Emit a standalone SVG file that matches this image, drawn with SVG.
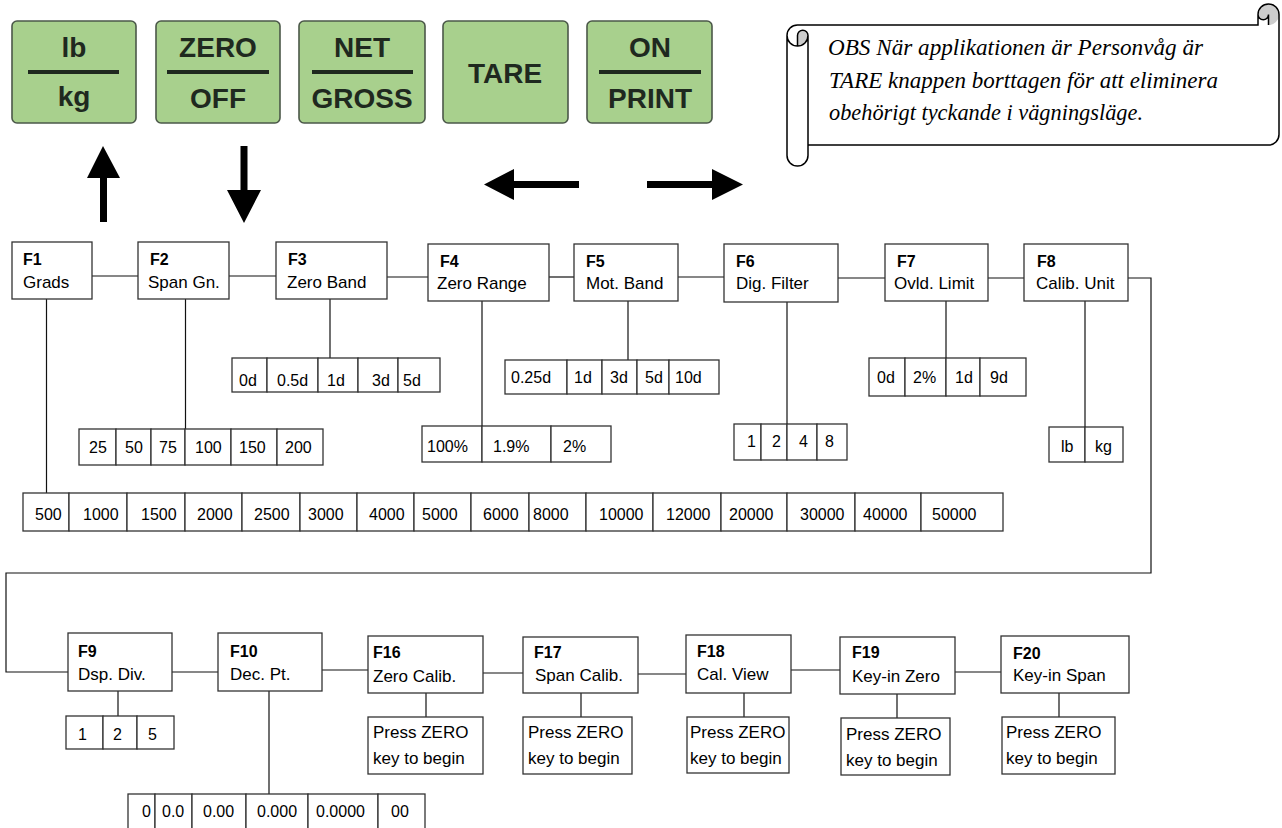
<svg xmlns="http://www.w3.org/2000/svg" width="1282" height="828" viewBox="0 0 1282 828">
<style>
.btn{fill:#a8d08d;stroke:#4b5849;stroke-width:1.6}
.bt{font-family:"Liberation Sans",Arial,sans-serif;font-weight:bold;font-size:28px;fill:#1f291f;text-anchor:middle}
.dv{stroke:#1f291f;stroke-width:4}
.box{fill:#fff;stroke:#333;stroke-width:1.3}
.ln{stroke:#111;stroke-width:1.2;fill:none}
.fl{font-family:"Liberation Sans",Arial,sans-serif;font-weight:bold;font-size:16px;fill:#000}
.nm{font-family:"Liberation Sans",Arial,sans-serif;font-size:17px;fill:#000}
.v{font-family:"Liberation Sans",Arial,sans-serif;font-size:16px;fill:#000}
.ar{fill:#000}
.sc{font-family:"Liberation Serif","Times New Roman",serif;font-style:italic;font-size:24px;fill:#000}
</style>

<g id="buttons">
  <g id="btn-lbkg"><rect class="btn" x="12" y="21" width="124" height="102" rx="5"/><line class="dv" x1="28" y1="72" x2="119" y2="72"/><text class="bt" x="74" y="57">lb</text><text class="bt" x="74" y="106">kg</text></g>
  <g id="btn-zero"><rect class="btn" x="156" y="21" width="124" height="102" rx="5"/><line class="dv" x1="167" y1="72" x2="269" y2="72"/><text class="bt" x="218" y="57">ZERO</text><text class="bt" x="218" y="108">OFF</text></g>
  <g id="btn-net"><rect class="btn" x="299" y="21" width="126" height="102" rx="5"/><line class="dv" x1="312" y1="72" x2="413" y2="72"/><text class="bt" x="362" y="57">NET</text><text class="bt" x="362" y="108">GROSS</text></g>
  <g id="btn-tare"><rect class="btn" x="443" y="21" width="125" height="102" rx="5"/><text class="bt" x="505" y="83">TARE</text></g>
  <g id="btn-on"><rect class="btn" x="587" y="21" width="125" height="102" rx="5"/><line class="dv" x1="599" y1="72" x2="701" y2="72"/><text class="bt" x="650" y="57">ON</text><text class="bt" x="650" y="108">PRINT</text></g>
</g>

<g id="arrows">
  <polygon class="ar" points="103,146 120,178 107,178 107,222 100,222 100,178 87,178"/>
  <polygon class="ar" points="240.5,146 247.5,146 247.5,190 261,190 244,223 227,190 240.5,190"/>
  <polygon class="ar" points="484,184.5 514,169 514,181 579,181 579,188 514,188 514,200"/>
  <polygon class="ar" points="647,181 712,181 712,169 743,184.5 712,200 712,188 647,188"/>
</g>

<g id="scroll-note">
  <path d="M787,35.5 A10.5,10.5 0 0 1 797.5,25 L1258,25 L1258,14.5 A10.5,10.5 0 0 1 1279,14.5 L1279,134.5 A10.5,10.5 0 0 1 1268.5,145 L808,145 L808,155.5 A10.5,10.5 0 0 1 787,155.5 Z" fill="#fff" stroke="none"/>
  <path d="M1268.5,25 A10.5,10.5 0 1 0 1258,14.5 A5.25,5.25 0 0 0 1268.5,14.5 Z" fill="#cdcdcd"/>
  <path d="M797.5,46 A10.5,10.5 0 0 0 808,35.5 A5.25,5.25 0 0 0 797.5,35.5 Z" fill="#cdcdcd"/>
  <path d="M787,35.5 A10.5,10.5 0 0 1 797.5,25 L1258,25 L1258,14.5 A10.5,10.5 0 0 1 1279,14.5 L1279,134.5 A10.5,10.5 0 0 1 1268.5,145 L808,145 L808,155.5 A10.5,10.5 0 0 1 787,155.5 Z M1268.5,25 L1268.5,14.5 A5.25,5.25 0 0 1 1258,14.5 M797.5,46 L797.5,35.5 A5.25,5.25 0 0 1 808,35.5 A10.5,10.5 0 0 1 787,35.5 M808,35.5 L808,145" fill="none" stroke="#000" stroke-width="1.5"/>
  <text class="sc" x="828" y="55" textLength="375" lengthAdjust="spacingAndGlyphs">OBS När applikationen är Personvåg är</text>
  <text class="sc" x="829" y="88" textLength="389" lengthAdjust="spacingAndGlyphs">TARE knappen borttagen för att eliminera</text>
  <text class="sc" x="829" y="120" textLength="314" lengthAdjust="spacingAndGlyphs">obehörigt tyckande i vägningsläge.</text>
</g>

<g id="connectors">
  <line class="ln" x1="92" y1="276" x2="138" y2="276"/>
  <line class="ln" x1="229" y1="276" x2="276" y2="276"/>
  <line class="ln" x1="387" y1="277" x2="428" y2="277"/>
  <line class="ln" x1="549" y1="277" x2="574" y2="277"/>
  <line class="ln" x1="678" y1="277" x2="724" y2="277"/>
  <line class="ln" x1="838" y1="278" x2="885" y2="278"/>
  <line class="ln" x1="988" y1="278" x2="1024" y2="278"/>
  <polyline class="ln" points="1128,278 1151,278 1151,573 6,573 6,672 68,672"/>
  <line class="ln" x1="172" y1="672" x2="218" y2="672"/>
  <line class="ln" x1="322" y1="670" x2="368" y2="670"/>
  <line class="ln" x1="483" y1="673" x2="523" y2="673"/>
  <line class="ln" x1="638" y1="674" x2="686" y2="674"/>
  <line class="ln" x1="791" y1="670" x2="840" y2="670"/>
  <line class="ln" x1="955" y1="672" x2="1001" y2="672"/>
  <line class="ln" x1="46.5" y1="299" x2="46.5" y2="493"/>
  <line class="ln" x1="185.5" y1="299" x2="185.5" y2="429"/>
  <line class="ln" x1="330" y1="299" x2="330" y2="358"/>
  <line class="ln" x1="482" y1="301" x2="482" y2="426"/>
  <line class="ln" x1="628" y1="301" x2="628" y2="360"/>
  <line class="ln" x1="787" y1="302" x2="787" y2="424"/>
  <line class="ln" x1="946" y1="301" x2="946" y2="358"/>
  <line class="ln" x1="1085" y1="301" x2="1085" y2="427"/>
  <line class="ln" x1="118" y1="691" x2="118" y2="716"/>
  <line class="ln" x1="269" y1="691" x2="269" y2="794"/>
  <line class="ln" x1="426" y1="693" x2="426" y2="717"/>
  <line class="ln" x1="581" y1="693" x2="581" y2="717"/>
  <line class="ln" x1="744" y1="693" x2="744" y2="717"/>
  <line class="ln" x1="897" y1="694" x2="897" y2="718"/>
  <line class="ln" x1="1059" y1="693" x2="1059" y2="717"/>
</g>

<g id="F1"><rect class="box" x="12" y="242" width="80" height="57"/><text class="fl" x="23" y="265">F1</text><text class="nm" x="23" y="288">Grads</text></g>
<g id="F2"><rect class="box" x="138" y="242" width="91" height="57"/><text class="fl" x="150" y="265">F2</text><text class="nm" x="148" y="288">Span Gn.</text></g>
<g id="F3"><rect class="box" x="276" y="242" width="111" height="57"/><text class="fl" x="288" y="265">F3</text><text class="nm" x="287" y="288">Zero Band</text></g>
<g id="F4"><rect class="box" x="428" y="244" width="121" height="57"/><text class="fl" x="440" y="267">F4</text><text class="nm" x="437" y="289">Zero Range</text></g>
<g id="F5"><rect class="box" x="574" y="244" width="104" height="57"/><text class="fl" x="586" y="267">F5</text><text class="nm" x="586" y="289">Mot. Band</text></g>
<g id="F6"><rect class="box" x="724" y="244" width="114" height="58"/><text class="fl" x="736" y="267">F6</text><text class="nm" x="736" y="289">Dig. Filter</text></g>
<g id="F7"><rect class="box" x="885" y="244" width="103" height="57"/><text class="fl" x="897" y="267">F7</text><text class="nm" x="894" y="289">Ovld. Limit</text></g>
<g id="F8"><rect class="box" x="1024" y="244" width="104" height="57"/><text class="fl" x="1037" y="267">F8</text><text class="nm" x="1036" y="289">Calib. Unit</text></g>

<g id="F1-values">
  <rect class="box" x="23" y="493" width="46" height="38"/><text class="v" x="35" y="520">500</text>
  <rect class="box" x="69" y="493" width="58" height="38"/><text class="v" x="83" y="520">1000</text>
  <rect class="box" x="127" y="493" width="58" height="38"/><text class="v" x="141" y="520">1500</text>
  <rect class="box" x="185" y="493" width="57" height="38"/><text class="v" x="197" y="520">2000</text>
  <rect class="box" x="242" y="493" width="58" height="38"/><text class="v" x="254" y="520">2500</text>
  <rect class="box" x="300" y="493" width="57" height="38"/><text class="v" x="308" y="520">3000</text>
  <rect class="box" x="357" y="493" width="57" height="38"/><text class="v" x="369" y="520">4000</text>
  <rect class="box" x="414" y="493" width="57" height="38"/><text class="v" x="422" y="520">5000</text>
  <rect class="box" x="471" y="493" width="58" height="38"/><text class="v" x="483" y="520">6000</text>
  <rect class="box" x="529" y="493" width="57" height="38"/><text class="v" x="533" y="520">8000</text>
  <rect class="box" x="586" y="493" width="67" height="38"/><text class="v" x="599" y="520">10000</text>
  <rect class="box" x="653" y="493" width="68" height="38"/><text class="v" x="666" y="520">12000</text>
  <rect class="box" x="721" y="493" width="66" height="38"/><text class="v" x="729" y="520">20000</text>
  <rect class="box" x="787" y="493" width="68" height="38"/><text class="v" x="800" y="520">30000</text>
  <rect class="box" x="855" y="493" width="66" height="38"/><text class="v" x="863" y="520">40000</text>
  <rect class="box" x="921" y="493" width="82" height="38"/><text class="v" x="932" y="520">50000</text>
</g>

<g id="F2-values">
  <rect class="box" x="79" y="429" width="37" height="36"/><text class="v" x="89" y="453">25</text>
  <rect class="box" x="116" y="429" width="35" height="36"/><text class="v" x="125" y="453">50</text>
  <rect class="box" x="151" y="429" width="34" height="36"/><text class="v" x="159" y="453">75</text>
  <rect class="box" x="185" y="429" width="46" height="36"/><text class="v" x="195" y="453">100</text>
  <rect class="box" x="231" y="429" width="46" height="36"/><text class="v" x="239" y="453">150</text>
  <rect class="box" x="277" y="429" width="46" height="36"/><text class="v" x="285" y="453">200</text>
</g>

<g id="F3-values">
  <rect class="box" x="232" y="358" width="35" height="34"/><text class="v" x="239" y="386">0d</text>
  <rect class="box" x="267" y="358" width="51" height="34"/><text class="v" x="277" y="386">0.5d</text>
  <rect class="box" x="318" y="358" width="40" height="34"/><text class="v" x="327" y="386">1d</text>
  <rect class="box" x="358" y="358" width="40" height="34"/><text class="v" x="372" y="386">3d</text>
  <rect class="box" x="398" y="358" width="42" height="34"/><text class="v" x="403" y="386">5d</text>
</g>

<g id="F4-values">
  <rect class="box" x="422" y="426" width="60" height="36"/><text class="v" x="427" y="452">100%</text>
  <rect class="box" x="482" y="426" width="69" height="36"/><text class="v" x="493" y="452">1.9%</text>
  <rect class="box" x="551" y="426" width="60" height="36"/><text class="v" x="563" y="452">2%</text>
</g>

<g id="F5-values">
  <rect class="box" x="505" y="360" width="62" height="34"/><text class="v" x="511" y="383">0.25d</text>
  <rect class="box" x="567" y="360" width="35" height="34"/><text class="v" x="574" y="383">1d</text>
  <rect class="box" x="602" y="360" width="35" height="34"/><text class="v" x="610" y="383">3d</text>
  <rect class="box" x="637" y="360" width="32" height="34"/><text class="v" x="645" y="383">5d</text>
  <rect class="box" x="669" y="360" width="50" height="34"/><text class="v" x="675" y="383">10d</text>
</g>

<g id="F6-values">
  <rect class="box" x="734" y="424" width="27" height="36"/><text class="v" x="747" y="447">1</text>
  <rect class="box" x="761" y="424" width="26" height="36"/><text class="v" x="772" y="447">2</text>
  <rect class="box" x="787" y="424" width="30" height="36"/><text class="v" x="799" y="447">4</text>
  <rect class="box" x="817" y="424" width="30" height="36"/><text class="v" x="825" y="447">8</text>
</g>

<g id="F7-values">
  <rect class="box" x="869" y="358" width="36" height="38"/><text class="v" x="877" y="383">0d</text>
  <rect class="box" x="905" y="358" width="41" height="38"/><text class="v" x="913" y="383">2%</text>
  <rect class="box" x="946" y="358" width="34" height="38"/><text class="v" x="955" y="383">1d</text>
  <rect class="box" x="980" y="358" width="46" height="38"/><text class="v" x="990" y="383">9d</text>
</g>

<g id="F8-values">
  <rect class="box" x="1049" y="427" width="36" height="35"/><text class="v" x="1061" y="452">lb</text>
  <rect class="box" x="1085" y="427" width="38" height="35"/><text class="v" x="1095" y="452">kg</text>
</g>

<g id="F9"><rect class="box" x="68" y="633" width="104" height="58"/><text class="fl" x="78" y="657">F9</text><text class="nm" x="78" y="680">Dsp. Div.</text></g>
<g id="F10"><rect class="box" x="218" y="633" width="104" height="58"/><text class="fl" x="230" y="657">F10</text><text class="nm" x="230" y="680">Dec. Pt.</text></g>
<g id="F16"><rect class="box" x="368" y="636" width="115" height="57"/><text class="fl" x="373" y="658">F16</text><text class="nm" x="373" y="682">Zero Calib.</text></g>
<g id="F17"><rect class="box" x="523" y="637" width="115" height="56"/><text class="fl" x="534" y="658">F17</text><text class="nm" x="535" y="681">Span Calib.</text></g>
<g id="F18"><rect class="box" x="686" y="635" width="105" height="58"/><text class="fl" x="697" y="657">F18</text><text class="nm" x="697" y="680">Cal. View</text></g>
<g id="F19"><rect class="box" x="840" y="637" width="115" height="57"/><text class="fl" x="852" y="658">F19</text><text class="nm" x="852" y="682">Key-in Zero</text></g>
<g id="F20"><rect class="box" x="1001" y="636" width="128" height="57"/><text class="fl" x="1013" y="659">F20</text><text class="nm" x="1013" y="681">Key-in Span</text></g>

<g id="F9-values">
  <rect class="box" x="66" y="716" width="37" height="33"/><text class="v" x="78" y="740">1</text>
  <rect class="box" x="103" y="716" width="34" height="33"/><text class="v" x="113" y="740">2</text>
  <rect class="box" x="137" y="716" width="37" height="33"/><text class="v" x="148" y="740">5</text>
</g>

<g id="F10-values">
  <rect class="box" x="128" y="794" width="27" height="50"/><text class="v" x="142" y="817">0</text>
  <rect class="box" x="155" y="794" width="37" height="50"/><text class="v" x="162" y="817">0.0</text>
  <rect class="box" x="192" y="794" width="54" height="50"/><text class="v" x="203" y="817">0.00</text>
  <rect class="box" x="246" y="794" width="62" height="50"/><text class="v" x="257" y="817">0.000</text>
  <rect class="box" x="308" y="794" width="70" height="50"/><text class="v" x="316" y="817">0.0000</text>
  <rect class="box" x="378" y="794" width="47" height="50"/><text class="v" x="391" y="817">00</text>
</g>

<g id="F16-action"><rect class="box" x="368" y="717" width="115" height="57"/><text class="nm" x="373" y="738">Press ZERO</text><text class="nm" x="373" y="764">key to begin</text></g>
<g id="F17-action"><rect class="box" x="523" y="717" width="109" height="57"/><text class="nm" x="528" y="738">Press ZERO</text><text class="nm" x="528" y="764">key to begin</text></g>
<g id="F18-action"><rect class="box" x="687" y="717" width="102" height="56"/><text class="nm" x="690" y="738">Press ZERO</text><text class="nm" x="690" y="764">key to begin</text></g>
<g id="F19-action"><rect class="box" x="841" y="718" width="109" height="57"/><text class="nm" x="846" y="740">Press ZERO</text><text class="nm" x="846" y="766">key to begin</text></g>
<g id="F20-action"><rect class="box" x="1002" y="717" width="113" height="57"/><text class="nm" x="1006" y="738">Press ZERO</text><text class="nm" x="1006" y="764">key to begin</text></g>
</svg>
